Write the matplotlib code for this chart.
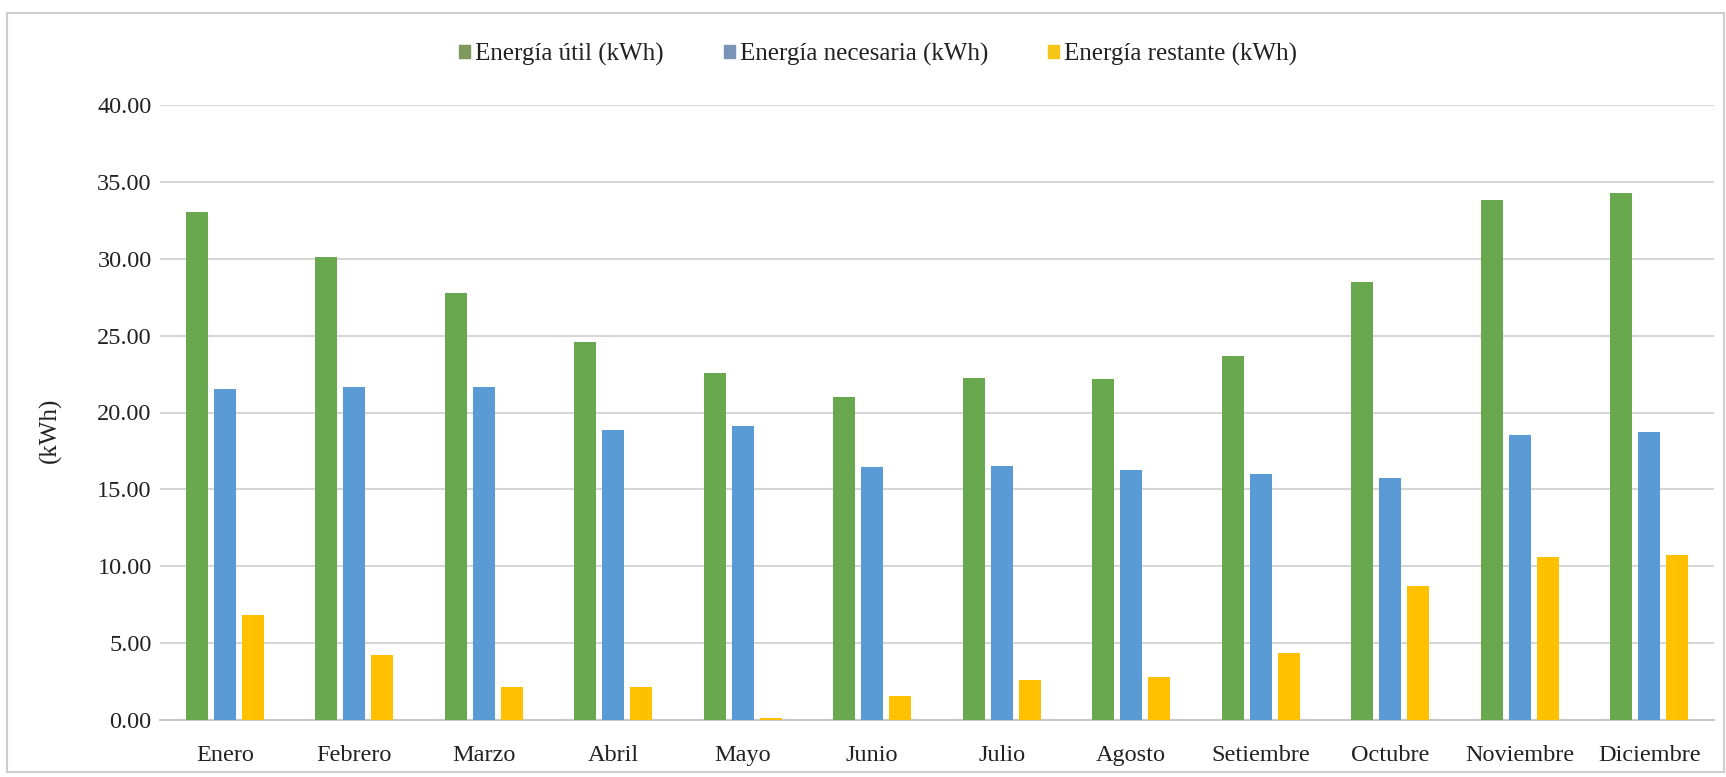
import matplotlib
matplotlib.use("Agg")
import matplotlib.pyplot as plt
import numpy as np
from matplotlib.patches import Rectangle

months = ["Enero", "Febrero", "Marzo", "Abril", "Mayo", "Junio", "Julio",
          "Agosto", "Setiembre", "Octubre", "Noviembre", "Diciembre"]
energia_util = [33.05, 30.1, 27.75, 24.6, 22.6, 21.0, 22.25, 22.2, 23.65, 28.5, 33.85, 34.25]
energia_necesaria = [21.55, 21.65, 21.65, 18.85, 19.1, 16.48, 16.5, 16.26, 15.98, 15.76, 18.53, 18.7]
energia_restante = [6.8, 4.2, 2.15, 2.15, 0.15, 1.55, 2.6, 2.8, 4.35, 8.7, 10.6, 10.7]
series_labels = ["Energía útil (kWh)", "Energía necesaria (kWh)", "Energía restante (kWh)"]
yticks = [0, 5, 10, 15, 20, 25, 30, 35, 40]

colors = ["#6aa84f", "#5b9bd5", "#ffc000"]
legend_colors = ["#7f9a5f", "#7a93b8", "#f5c518"]

plt.rcParams['font.family'] = ['Liberation Serif', 'DejaVu Serif']

W, H = 1726, 777
fig = plt.figure(figsize=(W / 100, H / 100), dpi=100)
fig.patch.set_facecolor("white")

# outer border
fig.patches.append(Rectangle((7 / W, 5 / H), (W - 9) / W, (H - 18) / H,
                             transform=fig.transFigure, fill=False,
                             edgecolor="#cfcfcf", linewidth=1.5))

left, right = 160 / W, 1714 / W
bottom, top = 1 - 720 / H, 1 - 105 / H
ax = fig.add_axes([left, bottom, right - left, top - bottom])

x = np.arange(len(months))
w = 0.17
off = 0.215
data = [energia_util, energia_necesaria, energia_restante]
for i, (vals, c) in enumerate(zip(data, colors)):
    ax.bar(x + (i - 1) * off, vals, width=w, color=c, zorder=3)

ax.set_xlim(-0.5, len(months) - 0.5)
ax.set_ylim(0, 40)
ax.set_yticks(yticks)
ax.set_yticklabels([f"{v:.2f}" for v in yticks])
ax.set_xticks(x)
ax.set_xticklabels(months)
ax.tick_params(axis="both", length=0, labelsize=17.5, colors="#222222")
ax.tick_params(axis="y", pad=6)
ax.tick_params(axis="x", pad=18)
ax.grid(axis="y", color="#d6d6d6", linewidth=1.5, zorder=0)
for s in ["top", "right", "left"]:
    ax.spines[s].set_visible(False)
ax.spines["bottom"].set_color("#c8c8c8")
ax.spines["bottom"].set_linewidth(1.5)
ax.set_facecolor("none")

fig.text(50 / W, 1 - 430 / H, "(kWh)", rotation=90, ha="center", va="center",
         fontsize=18, color="#222222")

handles = [Rectangle((0, 0), 1, 1, color=c) for c in legend_colors]
leg = fig.legend(handles, series_labels, loc="center", bbox_to_anchor=(0.5087, 1 - 54 / H),
                 ncol=3, frameon=False, fontsize=18, handlelength=0.45, handleheight=0.45,
                 handletextpad=0.2, columnspacing=2.4)
for t in leg.get_texts():
    t.set_color("#222222")

fig.savefig("out.png", dpi=100, facecolor="white")
